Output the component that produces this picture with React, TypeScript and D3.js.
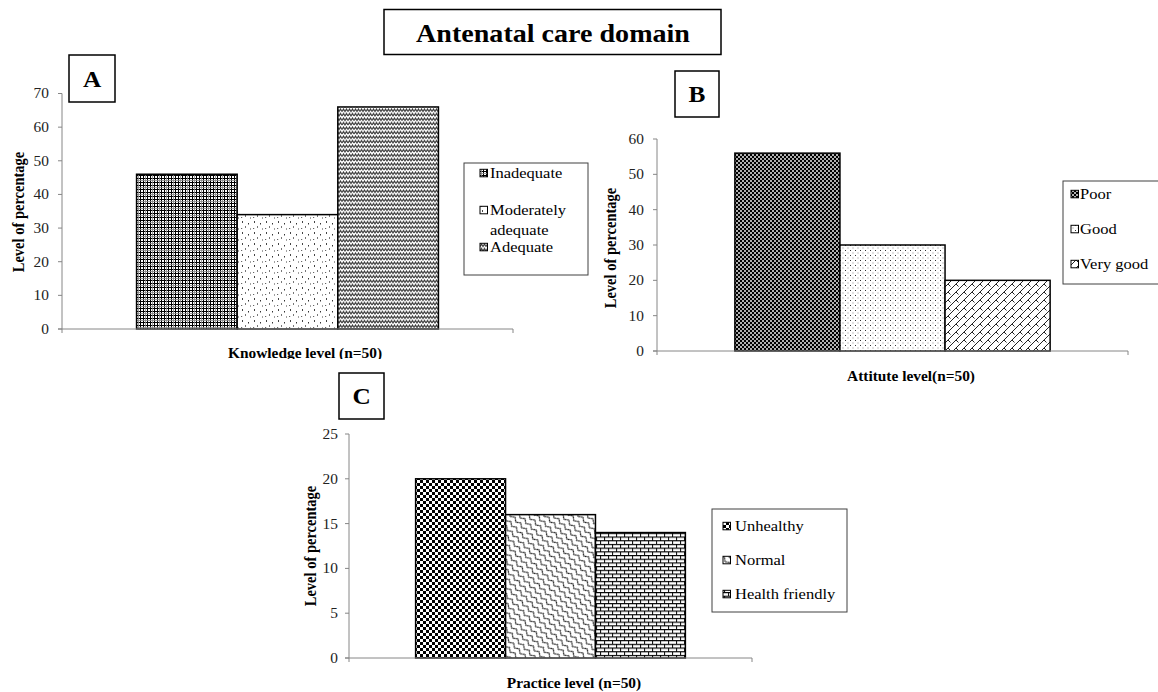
import React from "react";
import * as d3 from "d3";

// ---------- data ----------
const chartTitle = "Antenatal care domain";

const knowledgeLevels = ["Inadequate", "Moderately adequate", "Adequate"];
const knowledgeValues = [46, 34, 66];
const knowledgeTicks = [0, 10, 20, 30, 40, 50, 60, 70];

const attitudeLevels = ["Poor", "Good", "Very good"];
const attitudeValues = [56, 30, 20];
const attitudeTicks = [0, 10, 20, 30, 40, 50, 60];

const practiceLevels = ["Unhealthy", "Normal", "Health friendly"];
const practiceValues = [20, 16, 14];
const practiceTicks = [0, 5, 10, 15, 20, 25];

const FONT = "'Liberation Serif','Times New Roman',serif";
const SX = 1.1;

function wrap(s: string, maxChars: number): string[] {
  if (s.length <= maxChars) return [s];
  const i = s.lastIndexOf(" ", maxChars);
  if (i < 0) return [s];
  return [s.slice(0, i), s.slice(i + 1)];
}

function SText(props: any) {
  const { x, y, sx = SX, children, ...rest } = props;
  return (
    <text transform={`translate(${x},${y}) scale(${sx},1)`} fontFamily={FONT} {...rest}>
      {children}
    </text>
  );
}

const panels = [
  {
    id: "A",
    names: knowledgeLevels,
    values: knowledgeValues,
    ticks: knowledgeTicks,
    max: 70,
    x0: 62, x1: 513, yTop: 93.5, yBase: 329,
    patterns: ["pA1", "pA2", "pA3"],
    box: { x: 69, y: 55, w: 46, h: 47 },
    xTitle: { text: "Knowledge level (n=50)", x: 305, y: 353 },
    yTitle: { x: 18, y: 212 },
    tickGap: 13,
    legend: { x: 464, y: 163, w: 124, h: 112, row0: 173, step: 37, sw: 480, tx: 490, wrapChars: 12 },
    clipBottom: 359,
  },
  {
    id: "B",
    names: attitudeLevels,
    values: attitudeValues,
    ticks: attitudeTicks,
    max: 60,
    x0: 657, x1: 1128, yTop: 139, yBase: 351,
    patterns: ["pB1", "pB2", "pB3"],
    box: { x: 675, y: 71, w: 44, h: 46 },
    xTitle: { text: "Attitute level(n=50)", x: 911, y: 376 },
    yTitle: { x: 610, y: 248 },
    tickGap: 13,
    legend: { x: 1063, y: 181, w: 110, h: 103, row0: 194, step: 35, sw: 1071, tx: 1080, wrapChars: 100 },
    clipBottom: 692,
  },
  {
    id: "C",
    names: practiceLevels,
    values: practiceValues,
    ticks: practiceTicks,
    max: 25,
    x0: 349, x1: 752, yTop: 434, yBase: 658,
    patterns: ["pC1", "pC2", "pC3"],
    box: { x: 339, y: 373, w: 45, h: 46 },
    xTitle: { text: "Practice level (n=50)", x: 574, y: 683 },
    yTitle: { x: 310, y: 546 },
    tickGap: 11,
    legend: { x: 712, y: 509, w: 135, h: 103, row0: 526, step: 34, sw: 723, tx: 735, wrapChars: 100 },
    clipBottom: 692,
  },
];

function Patterns() {
  return (
    <defs>
      <pattern id="pA1" width="7" height="7" patternUnits="userSpaceOnUse">
        <rect width="7" height="7" fill="#fff" />
        <path d="M0.5,0V7M3.5,0V7M0,0.5H7M0,3.5H7" stroke="#000" strokeWidth="1" />
        <path d="M5.5,0V7M0,5.5H7" stroke="#888" strokeWidth="0.8" />
      </pattern>
      <pattern id="pA2" width="12" height="11" patternUnits="userSpaceOnUse">
        <rect width="12" height="11" fill="#fff" />
        <rect x="2" y="1" width="1" height="2" fill="#444" />
        <rect x="8" y="3" width="1" height="1.5" fill="#333" />
        <rect x="5" y="6" width="1" height="2" fill="#777" />
        <rect x="10" y="8.5" width="1" height="1" fill="#444" />
        <rect x="1" y="8" width="1.2" height="1" fill="#666" />
      </pattern>
      <pattern id="pA3" width="6" height="4.5" patternUnits="userSpaceOnUse">
        <rect width="6" height="4.5" fill="#fff" />
        <path d="M0,3.5L1.5,1L3,3.5L4.5,1L6,3.5" stroke="#333" strokeWidth="1.1" fill="none" />
      </pattern>
      <pattern id="pB1" width="4" height="4" patternUnits="userSpaceOnUse">
        <rect width="4" height="4" fill="#b0b0b0" />
        <rect x="0" y="0" width="2" height="2" fill="#000" />
        <rect x="2" y="2" width="2" height="2" fill="#000" />
      </pattern>
      <pattern id="pB2" width="5" height="5" patternUnits="userSpaceOnUse">
        <rect width="5" height="5" fill="#fff" />
        <rect x="0" y="0" width="1" height="1" fill="#333" />
        <rect x="2.5" y="2.5" width="1" height="1" fill="#888" />
      </pattern>
      <pattern id="pB3" width="8" height="8" patternUnits="userSpaceOnUse">
        <rect width="8" height="8" fill="#fff" />
        <path d="M0,8L8,0M-1,1L1,-1M7,9L9,7M4,4L6.5,6.5" stroke="#222" strokeWidth="1" fill="none" />
      </pattern>
      <pattern id="pC1" width="6" height="6" patternUnits="userSpaceOnUse">
        <rect width="6" height="6" fill="#fff" />
        <rect x="0" y="0" width="3" height="3" fill="#000" />
        <rect x="3" y="3" width="3" height="3" fill="#000" />
      </pattern>
      <pattern id="pC2" width="8" height="6" patternUnits="userSpaceOnUse" patternTransform="rotate(45)">
        <rect width="8" height="6" fill="#fff" />
        <path d="M0,3Q2,0 4,3T8,3" stroke="#000" strokeWidth="1" fill="none" />
      </pattern>
      <pattern id="pC3" width="8" height="7.4" patternUnits="userSpaceOnUse">
        <rect width="8" height="7.4" fill="#fff" />
        <path d="M0,0.6H8M0,4.3H8" stroke="#000" strokeWidth="1.2" />
        <path d="M0.6,0.6V4.3M4.6,4.3V7.4" stroke="#000" strokeWidth="1" />
      </pattern>
    </defs>
  );
}

function Panel({ cfg }: { cfg: any }) {
  const y = d3.scaleLinear().domain([0, cfg.max]).range([cfg.yBase, cfg.yTop]);
  const outer = d3.scaleBand<string>().domain(["all"]).range([cfg.x0, cfg.x1]).paddingOuter(0.247).paddingInner(0);
  const start = outer("all") as number;
  const inner = d3.scaleBand<string>().domain(cfg.names).range([start, start + outer.bandwidth()]);
  const axisColor = "#868686";
  const lg = cfg.legend;
  return (
    <g>
      <clipPath id={`clip${cfg.id}`}>
        <rect x="0" y="0" width="1158" height={cfg.clipBottom} />
      </clipPath>
      {/* label box */}
      <rect x={cfg.box.x} y={cfg.box.y} width={cfg.box.w} height={cfg.box.h} fill="#fff" stroke="#000" strokeWidth="1.5" />
      <SText x={cfg.box.x + cfg.box.w / 2} y={cfg.box.y + cfg.box.h / 2} dy="0.35em" textAnchor="middle" fontSize="23" fontWeight="bold">
        {cfg.id}
      </SText>
      {/* bars */}
      {cfg.names.map((n: string, i: number) => (
        <rect
          key={n}
          x={inner(n)}
          y={y(cfg.values[i])}
          width={inner.bandwidth()}
          height={y(0) - y(cfg.values[i])}
          fill={`url(#${cfg.patterns[i]})`}
          stroke="#000"
          strokeWidth="1.5"
        />
      ))}
      {/* y axis */}
      <line x1={cfg.x0} x2={cfg.x0} y1={y(cfg.max)} y2={y(0)} stroke={axisColor} strokeWidth="1" />
      {cfg.ticks.map((t: number) => (
        <g key={t}>
          <line x1={cfg.x0 - 4} x2={cfg.x0} y1={y(t)} y2={y(t)} stroke={axisColor} strokeWidth="1" />
          <SText x={cfg.x0 - cfg.tickGap} y={y(t)} dy="0.35em" textAnchor="end" fontSize="14" fill="#222">
            {t}
          </SText>
        </g>
      ))}
      {/* x axis */}
      <line x1={cfg.x0 - 4} x2={cfg.x1} y1={y(0)} y2={y(0)} stroke={axisColor} strokeWidth="1" />
      <line x1={cfg.x0} x2={cfg.x0} y1={y(0)} y2={y(0) + 4} stroke={axisColor} strokeWidth="1" />
      <line x1={cfg.x1} x2={cfg.x1} y1={y(0)} y2={y(0) + 4} stroke={axisColor} strokeWidth="1" />
      {/* axis titles */}
      <g clipPath={`url(#clip${cfg.id})`}>
        <SText x={cfg.xTitle.x} y={cfg.xTitle.y} dy="0.35em" textAnchor="middle" fontSize="14" fontWeight="bold">
          {cfg.xTitle.text}
        </SText>
      </g>
      <text
        transform={`translate(${cfg.yTitle.x},${cfg.yTitle.y}) rotate(-90) scale(1,${SX})`}
        dy="0.35em"
        textAnchor="middle"
        fontFamily={FONT}
        fontSize="14.5"
        fontWeight="bold"
      >
        Level of percentage
      </text>
      {/* legend */}
      <rect x={lg.x} y={lg.y} width={lg.w} height={lg.h} fill="#fff" stroke="#404040" strokeWidth="1" />
      {cfg.names.map((n: string, i: number) => {
        const cy = lg.row0 + i * lg.step;
        const lines = wrap(n, lg.wrapChars);
        return (
          <g key={n}>
            <rect x={lg.sw} y={cy - 3.7} width="7.5" height="7.5" fill={`url(#${cfg.patterns[i]})`} stroke="#000" strokeWidth="1" />
            {lines.map((l, j) => (
              <SText key={j} x={lg.tx} y={cy + j * 19.5} dy="0.35em" fontSize="15">
                {l}
              </SText>
            ))}
          </g>
        );
      })}
    </g>
  );
}

export default function App() {
  return (
    <svg
      width={1158}
      height={692}
      viewBox="0 0 1158 692"
      style={{ position: "absolute", left: 0, top: 0, background: "#fff" }}
    >
      <Patterns />
      <rect x="0" y="0" width="1158" height="692" fill="#fff" />
      <rect x="384" y="9.5" width="337" height="45" fill="#fff" stroke="#000" strokeWidth="1.5" />
      <SText x={553} y={42} sx={1.08} textAnchor="middle" fontSize="26" fontWeight="bold">
        {chartTitle}
      </SText>
      {panels.map((p) => (
        <Panel key={p.id} cfg={p} />
      ))}
    </svg>
  );
}
